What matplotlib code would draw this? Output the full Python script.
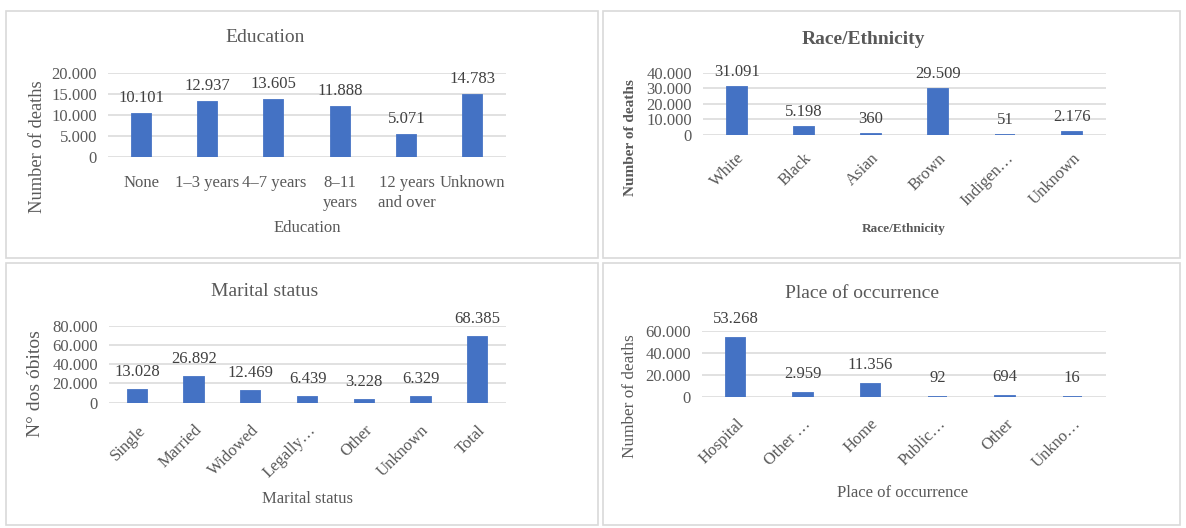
import matplotlib.pyplot as plt
from matplotlib.patches import Rectangle

# Data
edu_labels = ['None', '1–3 years', '4–7 years', '8–11\nyears', '12 years\nand over', 'Unknown']
edu_values = [10101, 12937, 13605, 11888, 5071, 14783]

race_labels = ['White', 'Black', 'Asian', 'Brown', 'Indigen…', 'Unknown']
race_values = [31091, 5198, 360, 29509, 51, 2176]

marital_labels = ['Single', 'Married', 'Widowed', 'Legally…', 'Other', 'Unknown', 'Total']
marital_values = [13028, 26892, 12469, 6439, 3228, 6329, 68385]

place_labels = ['Hospital', 'Other …', 'Home', 'Public…', 'Other', 'Unkno…']
place_values = [53268, 2959, 11356, 92, 694, 16]

W, H = 1186, 528
BAR = '#4472C4'
GRID = '#d9d9d9'
TXT = '#595959'
plt.rcParams['font.family'] = ['Liberation Serif', 'DejaVu Serif']

fig = plt.figure(figsize=(W / 100, H / 100), dpi=100)


def fx(x):
    return x / W


def fy(y):
    return 1 - y / H


def fmt(v):
    return f'{v:,}'.replace(',', '.')


# panel frames
for x0, y0, x1, y1 in [(6, 11, 598, 258), (603, 11, 1180, 258),
                       (6, 263, 598, 525), (603, 263, 1180, 525)]:
    fig.patches.append(Rectangle((fx(x0), fy(y1)), fx(x1 - x0), (y1 - y0) / H,
                                 transform=fig.transFigure, fill=False,
                                 edgecolor=GRID, linewidth=1.2))


def panel(box, labels, values, ymax, step, width, rot, offset,
          title, tpos, xlabel, xpos, ylabel, ypos, bold=False, ysize=11.5, xsize=12, xpad=10):
    left, top, right, bottom = box
    ax = fig.add_axes([fx(left), fy(bottom), fx(right - left), (bottom - top) / H])
    x = range(len(values))
    ax.bar(x, values, width=width, color=BAR, edgecolor=BAR, linewidth=1.3, zorder=3)
    ax.set_xlim(-0.5, len(values) - 0.5)
    ax.set_ylim(0, ymax)
    ax.set_yticks(range(0, ymax + 1, step))
    ax.set_yticklabels([fmt(v) for v in range(0, ymax + 1, step)])
    ax.grid(axis='y', color=GRID, linewidth=1.1, zorder=0)
    for s in ax.spines.values():
        s.set_visible(False)
    ax.tick_params(length=0, labelsize=12, labelcolor=TXT, pad=8)
    ax.set_xticks(list(x))
    if rot:
        ax.set_xticklabels(labels, rotation=45, ha='right', rotation_mode='anchor')
    else:
        ax.set_xticklabels(labels, linespacing=1.35)
    ax.tick_params(axis='x', pad=xpad)
    for i, v in enumerate(values):
        ax.annotate(fmt(v), (i, v), xytext=(0, offset), textcoords='offset pixels',
                    ha='center', va='center', fontsize=12, color='#404040', clip_on=False)
    wt = 'bold' if bold else 'normal'
    fig.text(fx(tpos[0]), fy(tpos[1]), title, ha='center', va='center',
             fontsize=14, color=TXT, fontweight=wt)
    fig.text(fx(xpos[0]), fy(xpos[1]), xlabel, ha='center', va='center',
             fontsize=xsize, color=TXT, fontweight=wt)
    fig.text(fx(ypos[0]), fy(ypos[1]), ylabel, ha='center', va='center',
             fontsize=ysize, color=TXT, fontweight=wt, rotation=90)
    return ax


panel((108, 72.7, 506, 156.7), edu_labels, edu_values, 20000, 5000, 0.29, False, 16,
      'Education', (265, 38), 'Education', (307, 228),
      'Number of deaths', (38, 147), ysize=13.3, xpad=13)

panel((703, 72.7, 1106, 135), race_labels, race_values, 40000, 10000, 0.3, True, 15,
      'Race/Ethnicity', (863, 40), 'Race/Ethnicity', (904, 229),
      'Number of deaths', (630, 138), bold=True, ysize=11, xsize=9.5, xpad=11)

panel((109, 325.7, 506, 402.7), marital_labels, marital_values, 80000, 20000, 0.34, True, 18,
      'Marital status', (265, 291), 'Marital status', (307, 499),
      'N° dos óbitos', (35, 384), ysize=14, xpad=14)

panel((702, 331, 1106, 396.7), place_labels, place_values, 60000, 20000, 0.29, True, 19,
      'Place of occurrence', (862, 293), 'Place of occurrence', (903, 493),
      'Number of deaths', (630, 396), ysize=12.4, xpad=14)

fig.savefig('out.png', dpi=100, facecolor='white')
